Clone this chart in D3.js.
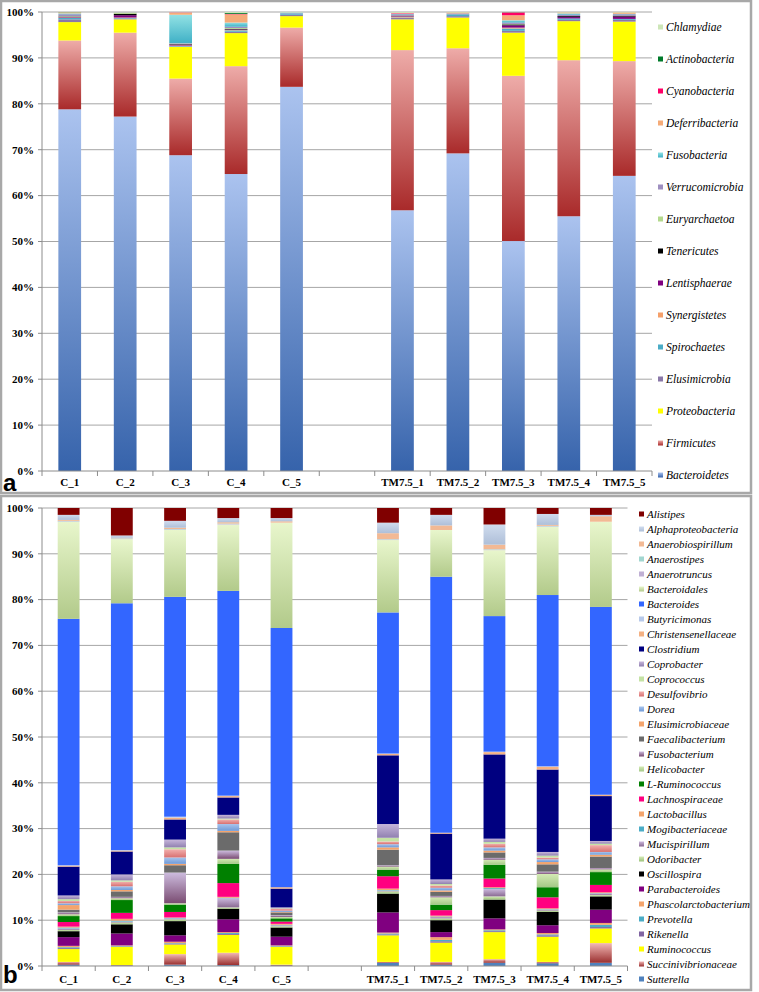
<!DOCTYPE html>
<html>
<head>
<meta charset="utf-8">
<script src="https://cdn.jsdelivr.net/npm/d3@7"></script>
<style>
  body { margin: 0; background: #fff; }
  svg text { font-family: "Liberation Serif", "Times New Roman", serif; }
  svg text.tag { font-family: "Liberation Sans", Arial, sans-serif; }
</style>
</head>
<body>
<svg id="chart" width="759" height="992"></svg>
<script>
// samples, "" is the empty slot between the groups
const samples = ["C_1", "C_2", "C_3", "C_4", "C_5", "", "TM7.5_1", "TM7.5_2", "TM7.5_3", "TM7.5_4", "TM7.5_5"];
const yTicks = [0, 0.1, 0.2, 0.3, 0.4, 0.5, 0.6, 0.7, 0.8, 0.9, 1];

// panel a, phyla, bottom of the stack first
const phyla = ["Bacteroidetes", "Firmicutes", "Proteobacteria", "Elusimicrobia", "Spirochaetes",
  "Synergistetes", "Lentisphaerae", "Tenericutes", "Euryarchaetoa", "Verrucomicrobia",
  "Fusobacteria", "Deferribacteria", "Cyanobacteria", "Actinobacteria", "Chlamydiae"];

// % per sample, same order as phyla
const phylumRows = [
  [78.8, 15.0, 4.0, 0.6, 0.3, 0.1, 0.1, 0.1, 0.1, 0.4, 0.2, 0.2, 0.0, 0.05, 0.05],
  [77.3, 18.3, 2.9, 0.2, 0.1, 0.1, 0.5, 0.3, 0.2, 0.1, 0.0, 0.0, 0.0, 0.0, 0.1],
  [68.8, 16.7, 6.9, 0.1, 0.1, 0.1, 0.2, 0.1, 0.1, 0.1, 6.2, 0.4, 0.1, 0.0, 0.1],
  [64.7, 23.5, 7.2, 0.3, 0.3, 0.1, 0.1, 0.1, 0.2, 0.3, 0.9, 1.8, 0.1, 0.2, 0.2],
  [83.7, 12.9, 2.5, 0.3, 0.3, 0.0, 0.0, 0.0, 0.0, 0.1, 0.1, 0.0, 0.0, 0.0, 0.1],
  [56.8, 34.9, 6.7, 0.3, 0.1, 0.2, 0.1, 0.1, 0.0, 0.3, 0.1, 0.1, 0.1, 0.0, 0.2],
  [69.2, 22.9, 6.7, 0.3, 0.4, 0.0, 0.0, 0.0, 0.0, 0.2, 0.0, 0.2, 0.0, 0.0, 0.1],
  [50.1, 36.0, 9.4, 0.4, 0.5, 0.2, 0.5, 0.2, 0.1, 0.3, 0.5, 1.1, 0.6, 0.05, 0.05],
  [55.5, 34.0, 8.5, 0.3, 0.3, 0.0, 0.3, 0.2, 0.0, 0.3, 0.3, 0.2, 0.0, 0.0, 0.1],
  [64.3, 25.0, 8.6, 0.4, 0.2, 0.0, 0.5, 0.2, 0.0, 0.3, 0.1, 0.3, 0.0, 0.0, 0.1]
];

// panel b, genera, bottom of the stack first
const genera = ["Sutterella", "Succinivibrionaceae", "Ruminococcus", "Rikenella", "Prevotella",
  "Phascolarctobacterium", "Parabacteroides", "Oscillospira", "Odoribacter", "Mucispirillum",
  "Mogibacteriaceae", "Lactobacillus", "Lachnospiraceae", "L-Ruminococcus", "Helicobacter",
  "Fusobacterium", "Faecalibacterium", "Elusimicrobiaceae", "Dorea", "Desulfovibrio",
  "Coprococcus", "Coprobacter", "Clostridium", "Christensenellaceae", "Butyricimonas",
  "Bacteroides", "Bacteroidales", "Anaerotruncus", "Anaerostipes", "Anaerobiospirillum",
  "Alphaproteobacteria", "Alistipes"];

const genusRows = [
  [0.3,0.6,2.8,0.2,0.2,0.3,1.9,1.3,0.3,0.3,0.2,0.2,1.0,1.3,0.4,0.4,0.6,1.0,0.4,0.5,0.4,0.8,6.3,0.2,0.1,53.8,21.2,0.1,0.1,0.2,1.1,1.5],
  [0.1,0.1,4.0,0.1,0.1,0.1,2.6,2.0,0.4,0.2,0.2,0.4,1.3,2.8,0.4,0.3,1.2,0.3,0.8,1.0,0.3,1.3,5.0,0.2,0.1,53.9,14.0,0.1,0.1,0.1,0.5,6.0],
  [0.3,2.3,2.1,0.2,0.1,0.3,1.4,3.1,0.4,0.2,0.1,0.1,1.2,1.6,0.3,6.7,1.6,0.3,1.4,1.8,0.4,1.7,4.4,0.4,0.2,48.0,14.6,0.1,0.1,0.3,1.5,2.8],
  [0.2,2.7,3.9,0.2,0.2,0.2,2.8,2.3,0.3,2.0,0.1,0.2,3.0,4.2,1.1,1.8,4.0,0.3,1.5,1.0,0.2,0.8,3.8,0.3,0.1,44.7,14.5,0.1,0.1,0.3,0.9,2.2],
  [0.1,0.2,3.9,0.1,0.1,0.1,1.9,2.0,0.3,0.2,0.1,0.2,0.5,0.7,0.3,0.4,0.6,0.1,0.3,0.4,0.1,0.2,4.1,0.3,0.0,56.6,23.0,0.0,0.0,0.3,0.7,2.2],
  [0.7,0.2,5.8,0.2,0.2,0.2,4.4,4.1,0.5,0.2,0.1,0.3,2.7,1.4,0.7,0.3,3.4,0.5,0.7,0.6,0.8,3.0,15.0,0.3,0.1,30.8,15.8,0.1,0.1,1.3,2.3,3.2],
  [0.3,0.6,4.2,0.3,0.3,0.6,1.1,2.6,0.4,0.3,0.1,0.2,1.2,1.2,1.6,0.3,0.9,0.3,0.6,0.5,0.3,1.0,10.0,0.2,0.0,55.9,10.2,0.0,0.0,1.0,2.3,1.5],
  [0.7,0.8,5.9,0.2,0.2,0.2,2.4,4.1,0.7,1.6,0.2,0.2,1.9,3.0,1.1,0.4,1.2,0.4,0.7,0.8,0.4,0.7,18.4,0.5,0.1,29.6,14.4,0.1,0.1,1.0,4.4,3.6],
  [0.6,0.3,5.5,0.3,0.2,0.3,1.7,2.9,0.3,0.2,0.1,0.2,2.4,2.2,2.9,0.5,1.6,0.5,0.6,0.4,0.4,0.8,18.0,0.6,0.1,37.4,14.9,0.1,0.1,0.2,2.4,1.3],
  [0.7,4.3,3.2,0.3,0.5,0.4,2.9,2.9,0.3,0.3,0.1,0.2,1.6,2.8,0.6,0.3,2.5,0.4,0.6,1.5,0.3,0.6,9.8,0.3,0.0,41.0,18.6,0.0,0.0,1.2,0.3,1.5]
];

// colours (two stops = excel style gradient, top -> bottom)
const phylumColors = [["#abc3ef", "#3663ab"], ["#eeaca9", "#a92a2a"], "#ffff00", "#8a78a8", "#4bacc6",
  "#f5a06a", "#7f007f", "#000000", "#b3d98c", "#9e8fc0",
  ["#92e2e4", "#3fb0c6"], "#f5ab78", "#ff0066", "#007a2a", "#cde6b8"];

const genusColors = ["#4f81bd", ["#f2b8b5", "#9a3030"], "#ffff00", "#8064a2", "#4bacc6",
  "#f4a46c", "#800080", "#000000", ["#d6ebb8", "#9cc27a"], ["#cbb8dc", "#8a6a92"],
  "#4bacc6", "#f4a46c", "#ff0080", "#008000", ["#d4eab4", "#a4c886"],
  ["#cdbcde", "#7a4c72"], "#6b6b6b", "#f4a46c", ["#a8c4ec", "#6f9ad8"], ["#f2b0ae", "#d87070"],
  "#c4e2a4", ["#c6b6da", "#9080b0"], "#000080", "#f4b183", "#b7c9ea",
  "#3366ff", ["#e8f6cc", "#b2ca8a"], "#c0b0d4", "#a2d6d0", "#f2b994",
  ["#d0dcee", "#aebfd8"], "#800000"];

const svg = d3.select("#chart");
const defs = svg.append("defs");

// outer frames
svg.append("rect").attr("x", 1).attr("y", 1).attr("width", 750).attr("height", 492)
  .attr("fill", "none").attr("stroke", "#a8a8a8").attr("stroke-width", 2.5);
svg.append("rect").attr("x", 1).attr("y", 496).attr("width", 750).attr("height", 494)
  .attr("fill", "none").attr("stroke", "#a8a8a8").attr("stroke-width", 2.5);

function drawPanel(cfg) {
  const x = d3.scaleBand()
    .domain(samples)
    .range([42, cfg.right])
    .paddingInner(0.59)
    .paddingOuter(0.295);
  const y = d3.scaleLinear().domain([0, 1]).range([cfg.bottom, cfg.top]);

  const g = svg.append("g");

  // gradients
  const fill = cfg.colors.map((c, i) => {
    if (!Array.isArray(c)) return c;
    const id = cfg.id + "-grad-" + i;
    const lg = defs.append("linearGradient").attr("id", id)
      .attr("x1", 0).attr("y1", 0).attr("x2", 0).attr("y2", 1);
    lg.append("stop").attr("offset", "0%").attr("stop-color", c[0]);
    lg.append("stop").attr("offset", "100%").attr("stop-color", c[1]);
    return "url(#" + id + ")";
  });

  // grid lines
  g.selectAll("line.grid")
    .data(yTicks.slice(1))
    .join("line")
    .attr("x1", 42).attr("x2", cfg.right)
    .attr("y1", d => y(d)).attr("y2", d => y(d))
    .attr("stroke", "#a6a6a6").attr("stroke-width", 1);

  // stacked bars
  const table = samples.filter(s => s !== "").map((s, j) => {
    const row = { sample: s };
    cfg.keys.forEach((k, i) => row[k] = cfg.rows[j][i]);
    return row;
  });
  const stacked = d3.stack().keys(cfg.keys).offset(d3.stackOffsetExpand)(table);

  g.selectAll("g.layer")
    .data(stacked)
    .join("g")
    .attr("fill", (d, i) => fill[i])
    .selectAll("rect")
    .data(d => d.filter(p => p[1] - p[0] > 0))
    .join("rect")
    .attr("x", d => x(d.data.sample))
    .attr("width", x.bandwidth())
    .attr("y", d => y(d[1]))
    .attr("height", d => y(d[0]) - y(d[1]));

  // y axis
  g.append("line").attr("x1", 42).attr("x2", 42).attr("y1", y(1)).attr("y2", y(0))
    .attr("stroke", "#8c8c8c");
  g.selectAll("line.ytick")
    .data(yTicks)
    .join("line")
    .attr("x1", 38).attr("x2", 42)
    .attr("y1", d => y(d)).attr("y2", d => y(d))
    .attr("stroke", "#8c8c8c");
  g.selectAll("text.ylab")
    .data(yTicks)
    .join("text")
    .attr("x", 34)
    .attr("y", d => y(d))
    .attr("dy", "0.35em")
    .attr("text-anchor", "end")
    .attr("font-size", 11)
    .attr("font-weight", "bold")
    .text(d => d3.format(".0%")(d));

  // x axis
  g.append("line").attr("x1", 42).attr("x2", cfg.right).attr("y1", y(0)).attr("y2", y(0))
    .attr("stroke", "#8c8c8c");
  g.selectAll("line.xtick")
    .data(d3.range(samples.length + 1))
    .join("line")
    .attr("x1", i => 42 + i * x.step()).attr("x2", i => 42 + i * x.step())
    .attr("y1", y(0)).attr("y2", y(0) + 5)
    .attr("stroke", "#8c8c8c");
  g.selectAll("text.xlab")
    .data(samples)
    .join("text")
    .attr("x", d => x(d) + x.bandwidth() / 2)
    .attr("y", cfg.labelY)
    .attr("dy", "0.35em")
    .attr("text-anchor", "middle")
    .attr("font-size", 11)
    .attr("font-weight", "bold")
    .text(d => d);

  // legend, top of the stack listed first
  const items = cfg.keys.map((k, i) => ({ name: k, fill: fill[i] })).reverse();
  const leg = g.selectAll("g.leg")
    .data(items)
    .join("g")
    .attr("transform", (d, i) => `translate(${cfg.legendX},${cfg.legendY0 + i * cfg.legendStep})`);
  leg.append("rect").attr("x", 0).attr("y", -2.5).attr("width", 5).attr("height", 5)
    .attr("fill", d => d.fill);
  leg.append("text")
    .attr("x", 8)
    .attr("dy", "0.35em")
    .attr("font-size", cfg.legendFont)
    .attr("font-style", "italic")
    .text(d => d.name);

  // panel letter
  svg.append("text")
    .attr("class", "tag")
    .attr("x", 3)
    .attr("y", cfg.tagY)
    .attr("font-size", 24)
    .attr("font-weight", "bold")
    .text(cfg.tag);
}

drawPanel({
  id: "a", keys: phyla, rows: phylumRows, colors: phylumColors,
  top: 12, bottom: 471, right: 652,
  labelY: 482, legendX: 658, legendY0: 27, legendStep: 32, legendFont: 11.5,
  tag: "a", tagY: 491
});

drawPanel({
  id: "b", keys: genera, rows: genusRows, colors: genusColors,
  top: 508, bottom: 966, right: 627.5,
  labelY: 979, legendX: 639, legendY0: 514, legendStep: 15, legendFont: 11,
  tag: "b", tagY: 983
});
</script>
</body>
</html>
